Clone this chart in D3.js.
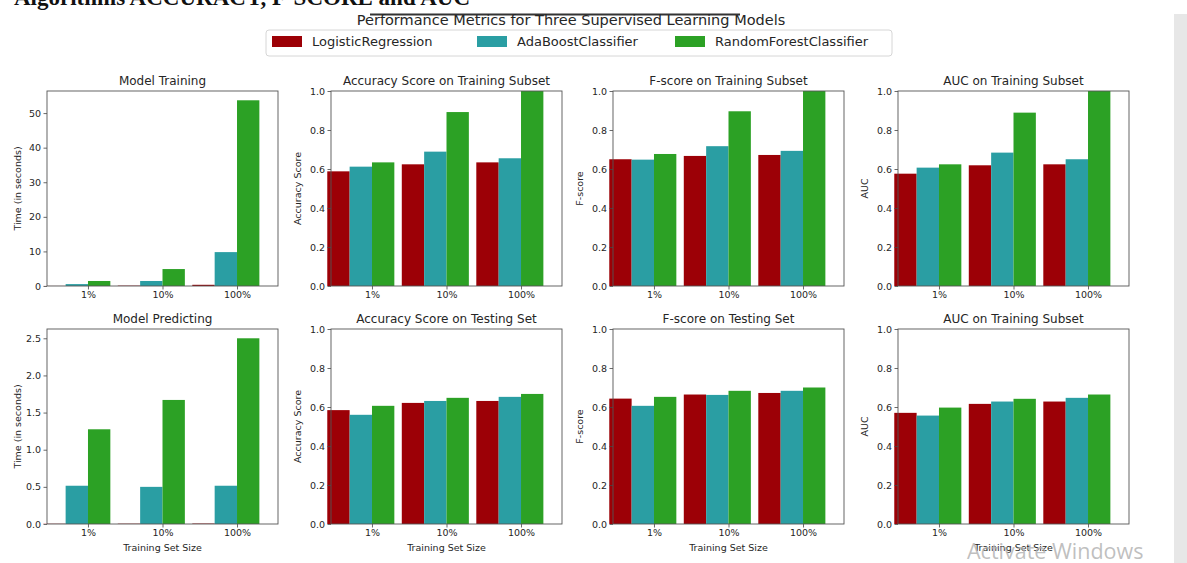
<!DOCTYPE html>
<html>
<head>
<meta charset="utf-8">
<script src="https://cdn.jsdelivr.net/npm/d3@7"></script>
<style>
  html, body { margin: 0; padding: 0; background: #fff; }
  svg { display: block; }
  text { font-family: "DejaVu Sans", sans-serif; fill: #262626; }
</style>
</head>
<body>
<svg id="chart" width="1187" height="563"></svg>
<script>
// Training-set sizes and learners
const sizes = ["1%", "10%", "100%"];
const learners = ["LogisticRegression", "AdaBoostClassifier", "RandomForestClassifier"];
const colors = ["#9c0006", "#2a9ea3", "#2ca125"];

// Each metric: one row per learner, one value per training-set size
const trainTime  = [[0.02, 0.10, 0.35], [0.55, 1.45, 9.8], [1.45, 4.9, 53.7]];
const predTime   = [[0.003, 0.004, 0.006], [0.515, 0.50, 0.515], [1.275, 1.67, 2.5]];
const accTrain   = [[0.588, 0.624, 0.634], [0.612, 0.689, 0.655], [0.634, 0.892, 1.0]];
const fTrain     = [[0.650, 0.667, 0.672], [0.648, 0.717, 0.693], [0.677, 0.896, 1.0]];
const aucTrain   = [[0.576, 0.619, 0.624], [0.607, 0.684, 0.650], [0.624, 0.889, 1.0]];
const accTest    = [[0.584, 0.621, 0.631], [0.560, 0.631, 0.652], [0.606, 0.647, 0.667]];
const fTest      = [[0.643, 0.664, 0.672], [0.606, 0.662, 0.683], [0.652, 0.683, 0.700]];
const aucTest    = [[0.570, 0.616, 0.628], [0.556, 0.628, 0.647], [0.597, 0.642, 0.664]];

const panelTitles = ["Model Training", "Accuracy Score on Training Subset", "F-score on Training Subset", "AUC on Training Subset",
                     "Model Predicting", "Accuracy Score on Testing Set", "F-score on Testing Set", "AUC on Training Subset"];
const panelYLabels = ["Time (in seconds)", "Accuracy Score", "F-score", "AUC",
                      "Time (in seconds)", "Accuracy Score", "F-score", "AUC"];
const panelData = [trainTime, accTrain, fTrain, aucTrain, predTime, accTest, fTest, aucTest];

const svg = d3.select("#chart");

// window chrome on the right edge
svg.append("rect").attr("x", 1174).attr("y", 14).attr("width", 13).attr("height", 549).attr("fill", "#e7e7e7");

// clipped heading line at the very top of the page
svg.append("text")
  .attr("x", 470).attr("y", 5)
  .attr("text-anchor", "end")
  .style("font-family", "'Liberation Serif', serif")
  .style("font-weight", "bold")
  .style("font-size", "23px")
  .style("fill", "#111")
  .text("Algorithms ACCURACY, F-SCORE and AUC");
svg.append("line").attr("x1", 370).attr("x2", 740).attr("y1", 14.5).attr("y2", 14.5)
  .attr("stroke", "#333").attr("stroke-width", 2);

// figure title
svg.append("text")
  .attr("x", 571).attr("y", 25)
  .attr("text-anchor", "middle")
  .style("font-size", "14.5px")
  .text("Performance Metrics for Three Supervised Learning Models");

// legend
const legend = svg.append("g");
legend.append("rect")
  .attr("x", 266).attr("y", 30).attr("width", 626).attr("height", 26).attr("rx", 3)
  .attr("fill", "#fff").attr("stroke", "#d6d6d6");
const legendX = [272, 477, 675];
learners.forEach((name, k) => {
  legend.append("rect").attr("x", legendX[k]).attr("y", 36).attr("width", 30).attr("height", 11)
    .attr("fill", colors[k]);
  legend.append("text").attr("x", legendX[k] + 40).attr("y", 46)
    .style("font-size", "13px").text(name);
});

// panel grid
const colLeft = [47, 331, 613, 898];
const rowTop = [91, 329];
const pw = 231, ph = 195;
const barWidth = 0.3;

panelData.forEach((data, p) => {
  const r = Math.floor(p / 4), c = p % 4;
  const g = svg.append("g").attr("transform", `translate(${colLeft[c]},${rowTop[r]})`);

  const x = d3.scaleLinear().domain([-0.1, 3.0]).range([0, pw]);
  const isTime = c === 0;
  const yMax = isTime ? d3.max(data.flat()) * 1.05 : 1.0;
  const y = d3.scaleLinear().domain([0, yMax]).range([ph, 0]);

  // bars
  data.forEach((vals, k) => {
    g.selectAll(null).data(vals).join("rect")
      .attr("x", (d, i) => x(i + k * barWidth - barWidth / 2))
      .attr("width", x(barWidth) - x(0))
      .attr("y", d => y(d))
      .attr("height", d => y(0) - y(d))
      .attr("fill", colors[k]);
  });

  // axes
  const xAxis = d3.axisBottom(x)
    .tickValues(sizes.map((s, i) => i + 0.45))
    .tickFormat((d, i) => sizes[i])
    .tickSize(3.5).tickPadding(2);
  const yAxis = d3.axisLeft(y)
    .ticks(6)
    .tickFormat(isTime && yMax > 10 ? d3.format("d") : d3.format(".1f"))
    .tickSize(3.5).tickPadding(2.5);

  const gx = g.append("g").attr("transform", `translate(0,${ph})`).call(xAxis);
  const gy = g.append("g").call(yAxis);
  [gx, gy].forEach(a => {
    a.select(".domain").remove();
    a.selectAll("line").attr("stroke", "#444").attr("stroke-width", 0.8);
    a.selectAll("text").style("font-size", "9.5px").style("font-family", "'DejaVu Sans', sans-serif").attr("fill", "#262626");
  });

  // frame
  g.append("rect").attr("width", pw).attr("height", ph)
    .attr("fill", "none").attr("stroke", "#555").attr("stroke-width", 0.9);

  // title and axis labels
  g.append("text").attr("x", pw / 2).attr("y", -6)
    .attr("text-anchor", "middle").style("font-size", "12px").text(panelTitles[p]);
  g.append("text")
    .attr("transform", `translate(${isTime ? -26 : -30},${ph / 2}) rotate(-90)`)
    .attr("text-anchor", "middle").style("font-size", "9.5px").text(panelYLabels[p]);
  if (r === 1) {
    g.append("text").attr("x", x(1.45)).attr("y", ph + 27)
      .attr("text-anchor", "middle").style("font-size", "9.5px").text("Training Set Size");
  }
});

// desktop watermark
svg.append("text")
  .attr("x", 967).attr("y", 559)
  .style("font-family", "'Open Sans', sans-serif")
  .style("font-size", "21.5px")
  .style("fill", "#b4b4b4")
  .style("fill-opacity", 0.85)
  .text("Activate Windows");
</script>
</body>
</html>
